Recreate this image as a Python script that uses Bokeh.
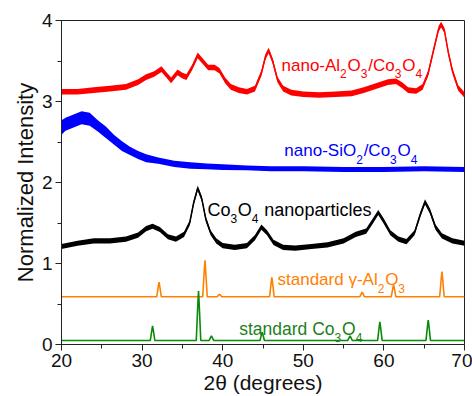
from bokeh.plotting import figure
from bokeh.models import Label, Range1d, SingleIntervalTicker
from bokeh.embed import file_html
from bokeh.resources import INLINE

# ---------------- data ----------------
# nano-Al2O3/Co3O4 (red)
red_x = [20, 22, 24, 26, 28, 29.5, 30.5, 31.5, 32.4, 33.0, 33.6, 34.4, 35.0, 35.5, 36.2, 36.9,
         37.5, 38.2, 39.0, 39.6, 40.3, 41.0, 42.0, 43.0, 44.0, 44.8, 45.3, 45.7, 46.2, 46.8,
         47.5, 48.5, 50, 52, 54, 56, 57.5, 59, 60.5, 61.5, 62.3, 63, 64, 64.8, 65.5, 66.2,
         66.8, 67.1, 67.5, 68.0, 68.5, 69.2, 70]
red_y = [3.12, 3.12, 3.14, 3.16, 3.18, 3.24, 3.30, 3.34, 3.40, 3.33, 3.26, 3.36, 3.32, 3.30, 3.42, 3.57,
         3.50, 3.42, 3.42, 3.38, 3.26, 3.18, 3.14, 3.12, 3.16, 3.35, 3.55, 3.63, 3.50, 3.27,
         3.16, 3.11, 3.09, 3.08, 3.09, 3.10, 3.14, 3.19, 3.24, 3.25, 3.20, 3.14, 3.13, 3.18, 3.35, 3.65,
         3.90, 3.95, 3.88, 3.60, 3.38, 3.17, 3.08]
red_noise = 0.035

# nano-SiO2/Co3O4 (blue)
blue_x = [20, 20.5, 21.5, 22.5, 23.5, 24.5, 25.5, 26.5, 27.5, 28.5, 29.5, 30.5, 32, 34, 36, 38,
          40, 43, 46, 50, 55, 60, 65, 70]
blue_y = [2.68, 2.72, 2.76, 2.80, 2.78, 2.70, 2.62, 2.53, 2.45, 2.39, 2.34, 2.30, 2.27, 2.23, 2.21, 2.20,
          2.19, 2.18, 2.17, 2.17, 2.16, 2.16, 2.17, 2.16]
blue_noise = [0.09, 0.08, 0.08, 0.08, 0.08, 0.07, 0.07, 0.06, 0.06, 0.05, 0.05, 0.05, 0.04, 0.04, 0.04, 0.035,
              0.035, 0.03, 0.03, 0.03, 0.03, 0.03, 0.03, 0.03]

# Co3O4 nanoparticles (black)
blk_x = [20, 22, 24, 26, 28, 29.5, 30.5, 31.3, 32.2, 33.2, 34.2, 35.2, 35.9, 36.4, 36.9, 37.4,
         37.9, 38.5, 39.2, 40.0, 41.5, 43.0, 44.0, 44.8, 45.5, 46.3, 47.5, 49, 51, 53, 55,
         56.5, 57.8, 58.6, 59.3, 60.0, 60.8, 61.8, 62.8, 63.8, 64.5, 65.1, 65.7, 66.4, 67.2,
         68.5, 70]
blk_y = [1.21, 1.25, 1.28, 1.28, 1.30, 1.35, 1.43, 1.46, 1.42, 1.33, 1.30, 1.36, 1.50, 1.75, 1.93, 1.80,
         1.55, 1.38, 1.28, 1.22, 1.20, 1.22, 1.32, 1.45, 1.38, 1.26, 1.20, 1.19, 1.21, 1.23, 1.28,
         1.36, 1.40, 1.52, 1.63, 1.52, 1.38, 1.30, 1.27, 1.38, 1.60, 1.76, 1.65, 1.45, 1.34,
         1.28, 1.25]
blk_noise = 0.032

# standard gamma-Al2O3 (orange): baseline and peak positions / tops
al_base = 0.59
al_pos = [32.1, 37.8, 39.6, 46.1, 57.3, 61.2, 67.2]
al_top = [0.77, 1.04, 0.62, 0.83, 0.645, 0.74, 0.90]

# standard Co3O4 (green)
co_base = 0.05
co_pos = [31.3, 37.0, 38.6, 44.9, 55.8, 59.5, 65.5]
co_top = [0.23, 0.66, 0.105, 0.15, 0.105, 0.28, 0.30]

FONT = "Liberation Sans"
RED, BLUE, BLACK, ORANGE, GREEN = "#ff0000", "#0000ff", "#000000", "#ff8000", "#0a8a0a"
GREEN_TXT = "#1a7f1a"
PEAK_HALF = 0.28


def stick_pattern(base, pos, top, lo=20, hi=70):
    xs, ys = [lo], [base]
    for c, t in zip(pos, top):
        xs += [c - PEAK_HALF, c - 0.08, c, c + 0.08, c + PEAK_HALF]
        ys += [base, base + (t - base) * 0.75, t, base + (t - base) * 0.75, base]
    xs.append(hi)
    ys.append(base)
    return xs, ys


p = figure(width=472, height=396, output_backend="svg", toolbar_location=None,
           x_range=Range1d(20, 70), y_range=Range1d(0, 4),
           min_border_left=61, min_border_right=8, min_border_top=20, min_border_bottom=49)
p.background_fill_color = "white"
p.border_fill_color = "white"
p.outline_line_color = "#222222"
p.outline_line_width = 1
p.xgrid.visible = False
p.ygrid.visible = False

# noise bands + centre lines
p.varea(x=red_x, y1=[v - red_noise for v in red_y], y2=[v + red_noise for v in red_y],
        fill_color=RED, fill_alpha=1)
p.line(red_x, red_y, line_color=RED, line_width=1.5)
p.varea(x=blue_x, y1=[v - n for v, n in zip(blue_y, blue_noise)],
        y2=[v + n for v, n in zip(blue_y, blue_noise)], fill_color=BLUE, fill_alpha=1)
p.line(blue_x, blue_y, line_color=BLUE, line_width=1.5)
p.varea(x=blk_x, y1=[v - blk_noise for v in blk_y], y2=[v + blk_noise for v in blk_y],
        fill_color=BLACK, fill_alpha=1)
p.line(blk_x, blk_y, line_color=BLACK, line_width=1.5)

ax, ay = stick_pattern(al_base, al_pos, al_top)
p.line(ax, ay, line_color=ORANGE, line_width=1.6)
cx, cy = stick_pattern(co_base, co_pos, co_top)
p.line(cx, cy, line_color=GREEN, line_width=1.6)

# axes
for axis in (p.xaxis[0], p.yaxis[0]):
    axis.axis_line_color = "#222222"
    axis.major_tick_line_color = "#222222"
    axis.minor_tick_line_color = "#222222"
    axis.major_tick_in = 0
    axis.major_tick_out = 6
    axis.minor_tick_in = 0
    axis.minor_tick_out = 4
    axis.major_label_text_font = FONT
    axis.major_label_text_font_size = "19px"
    axis.major_label_text_color = "#111111"
    axis.axis_label_text_font = FONT
    axis.axis_label_text_font_style = "normal"
    axis.axis_label_text_color = "#111111"
    axis.major_label_standoff = 3
    axis.axis_label_standoff = 1

p.xaxis.ticker = SingleIntervalTicker(interval=10, num_minor_ticks=2)
p.yaxis.ticker = SingleIntervalTicker(interval=1, num_minor_ticks=2)
p.xaxis.axis_label = "2θ (degrees)"
p.xaxis.axis_label_text_font_size = "21px"
p.yaxis.axis_label = "Normalized Intensity"
p.yaxis.axis_label_text_font_size = "22px"

# rich text labels with subscripts
W = {' ': 278, '-': 333, '/': 278, '2': 556, '3': 556, '4': 556, 'A': 667, 'C': 722,
     'O': 778, 'S': 667, 'a': 556, 'c': 500, 'd': 556, 'e': 556, 'i': 222, 'l': 222,
     'n': 556, 'o': 556, 'p': 556, 'r': 333, 's': 500, 't': 278, 'γ': 500}


def add_rich(x, y, segs, size, color, sub_size=12, sub_drop=8.5):
    off = 0.0
    for txt, sub in segs:
        fs = sub_size if sub else size
        lead = len(txt) - len(txt.lstrip(" "))
        off += lead * W[' '] * fs / 1000.0
        body = txt.lstrip(" ")
        p.add_layout(Label(x=x, y=y, x_offset=off, y_offset=-sub_drop if sub else 0,
                           text=body, text_font=FONT, text_font_size=f"{fs}px",
                           text_color=color, text_baseline="alphabetic", text_align="left"))
        off += sum(W.get(ch, 556) for ch in body) * fs / 1000.0 + (0.8 if sub else 0)


add_rich(47.3, 3.45, [("nano-Al", 0), ("2", 1), ("O", 0), ("3", 1), ("/Co", 0), ("3", 1),
                      ("O", 0), ("4", 1)], 17, RED)
add_rich(47.65, 2.39, [("nano-SiO", 0), ("2", 1), ("/Co", 0), ("3", 1), ("O", 0), ("4", 1)],
         17, BLUE)
add_rich(38.1, 1.655, [("Co", 0), ("3", 1), ("O", 0), ("4", 1), (" nanoparticles", 0)],
         18, BLACK)
add_rich(46.8, 0.80, [("standard γ-Al", 0), ("2", 1), ("O", 0), ("3", 1)], 17, ORANGE)
add_rich(42.05, 0.187, [("standard Co", 0), ("3", 1), ("O", 0), ("4", 1)], 17.5, GREEN_TXT)

open("out.html", "w").write(file_html(p, INLINE))
